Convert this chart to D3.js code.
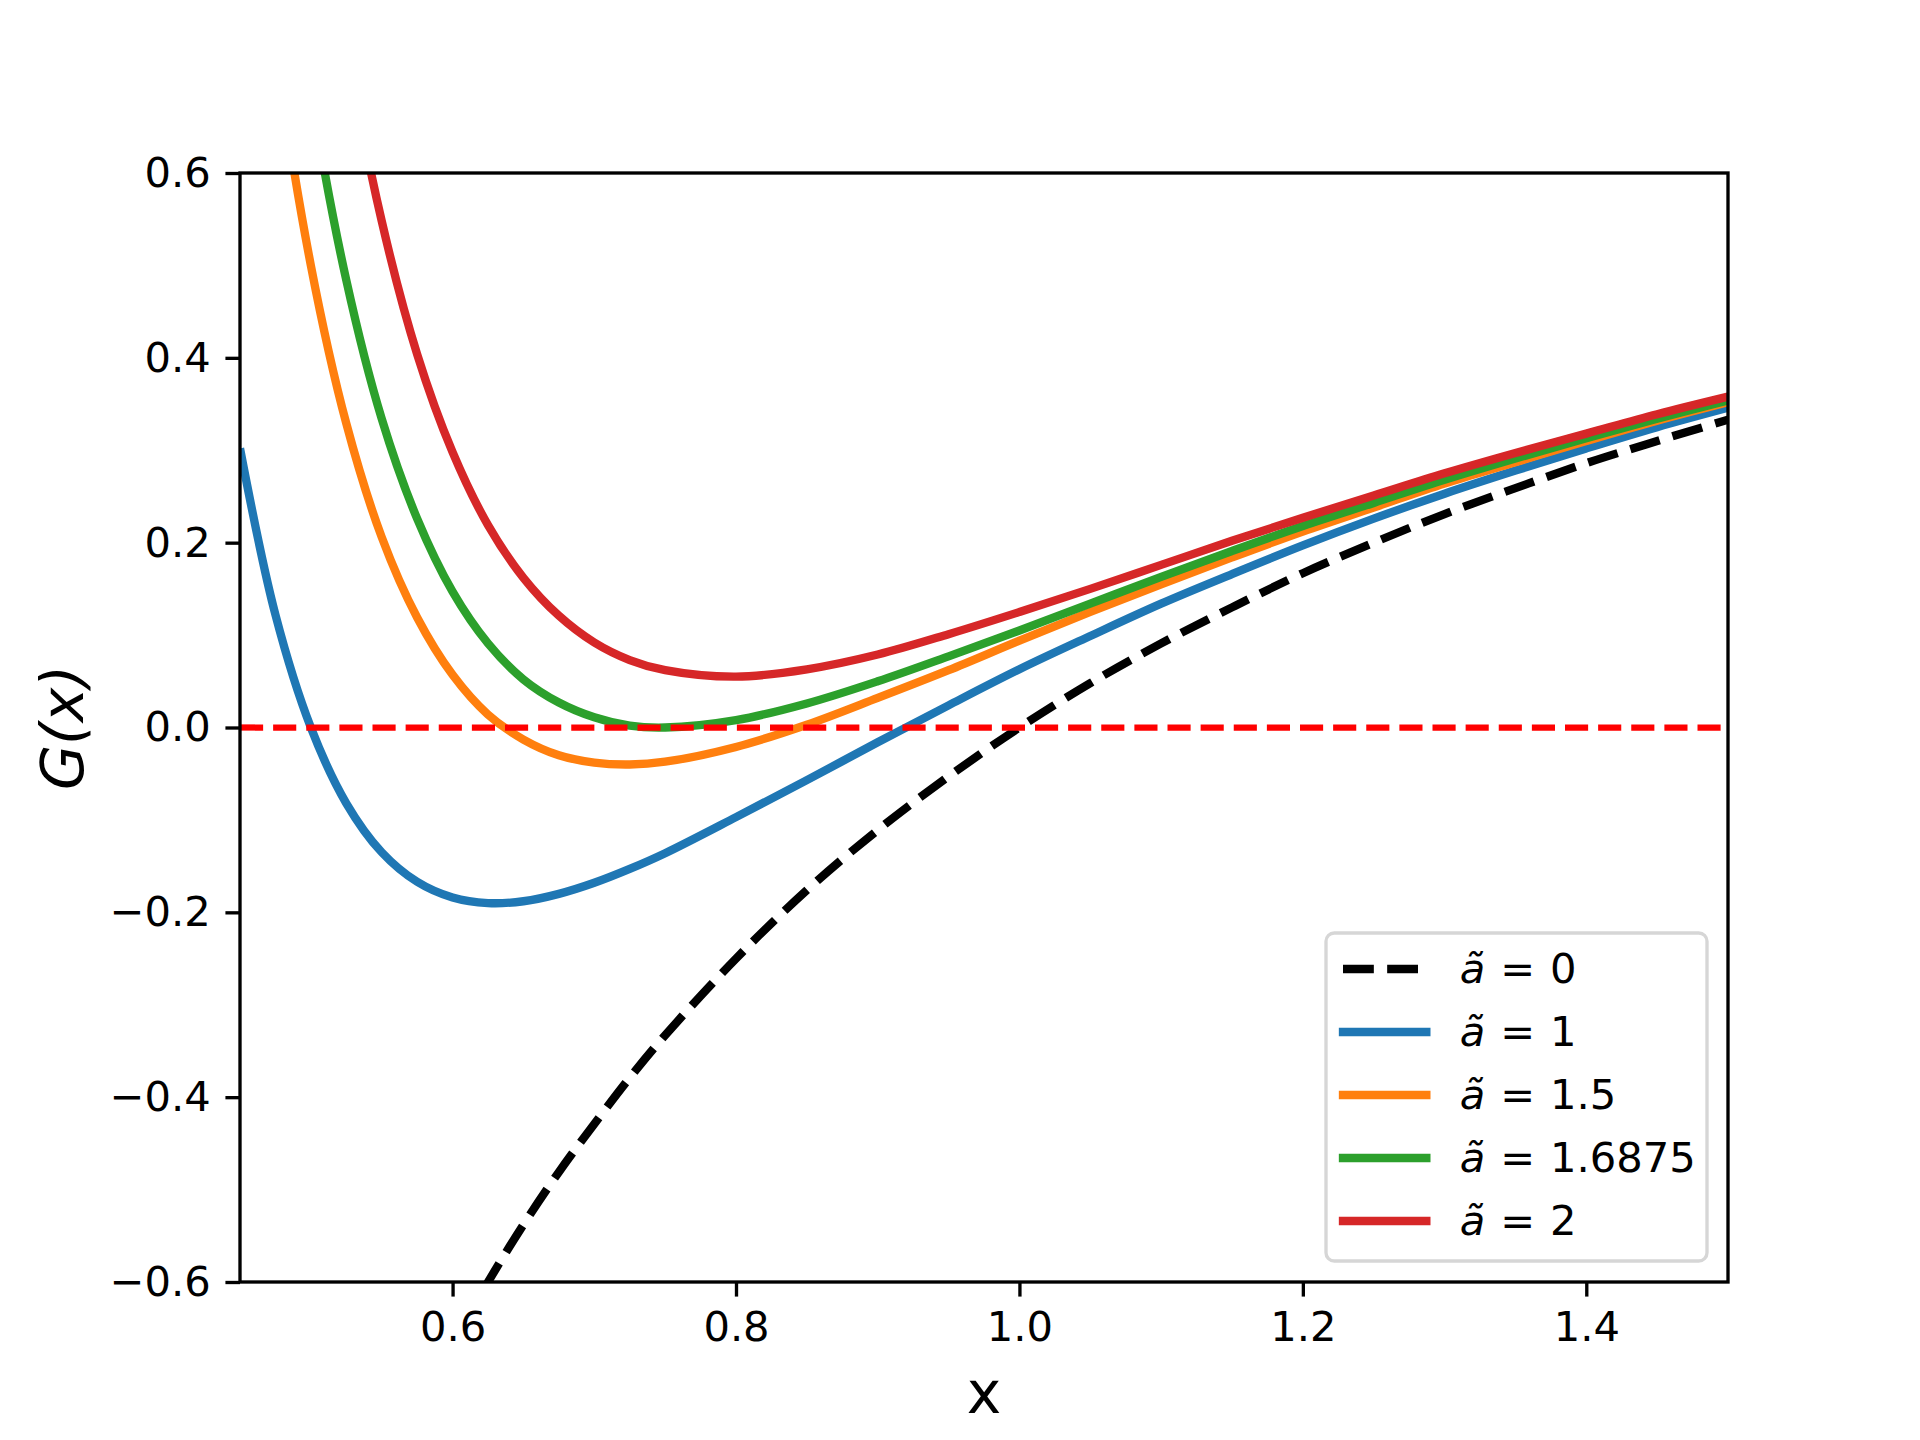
<!DOCTYPE html>
<html>
<head>
<meta charset="utf-8">
<script src="https://cdn.jsdelivr.net/npm/d3@7"></script>
<style>
  body { margin: 0; background: #fff; }
  text { font-family: "DejaVu Sans", sans-serif; }
</style>
</head>
<body>
<svg id="chart" width="1920" height="1440"></svg>
<script>
// x samples
const xs = [0.45, 0.475, 0.5, 0.525, 0.55, 0.575, 0.6, 0.625, 0.65, 0.675, 0.7, 0.725,
  0.75, 0.8, 0.85, 0.9, 0.95, 1.0, 1.05, 1.1, 1.15, 1.2, 1.25, 1.3, 1.35, 1.4, 1.45, 1.5];

const gA0 = [-1.222, -1.105, -1.0, -0.905, -0.818, -0.739, -0.667, -0.6, -0.538, -0.481, -0.429, -0.379,
  -0.333, -0.25, -0.176, -0.111, -0.053, 0.0, 0.048, 0.091, 0.130, 0.167, 0.2, 0.231, 0.259, 0.286, 0.310, 0.333];
const gA1 = [0.302, 0.122, 0.0, -0.082, -0.135, -0.167, -0.184, -0.190, -0.188, -0.180, -0.168, -0.153,
  -0.136, -0.097, -0.057, -0.016, 0.024, 0.063, 0.099, 0.134, 0.166, 0.197, 0.226, 0.253, 0.278, 0.302, 0.325, 0.346];
const gA15 = [1.064, 0.736, 0.5, 0.329, 0.206, 0.119, 0.057, 0.014, -0.013, -0.030, -0.038, -0.040,
  -0.037, -0.021, 0.003, 0.032, 0.062, 0.094, 0.125, 0.155, 0.184, 0.212, 0.238, 0.264, 0.287, 0.310, 0.332, 0.352];
const gA16875 = [1.350, 0.967, 0.688, 0.484, 0.334, 0.226, 0.147, 0.091, 0.052, 0.027, 0.011, 0.002,
  0.0, 0.008, 0.026, 0.050, 0.077, 0.105, 0.134, 0.163, 0.191, 0.218, 0.243, 0.268, 0.291, 0.313, 0.334, 0.354];
const gA2 = [1.826, 1.350, 1.0, 0.741, 0.548, 0.404, 0.298, 0.219, 0.162, 0.121, 0.092, 0.073,
  0.062, 0.055, 0.063, 0.079, 0.101, 0.125, 0.150, 0.176, 0.202, 0.227, 0.251, 0.275, 0.297, 0.318, 0.339, 0.358];

const aLabels = ["0", "1", "1.5", "1.6875", "2"];
const seriesValues = [gA0, gA1, gA15, gA16875, gA2];
const seriesColors = ["#000000", "#1f77b4", "#ff7f0e", "#2ca02c", "#d62728"];

const xTicks = [0.6, 0.8, 1.0, 1.2, 1.4];
const yTicks = [-0.6, -0.4, -0.2, 0.0, 0.2, 0.4, 0.6];

const plotLeft = 240, plotRight = 1728, plotTop = 173, plotBottom = 1282;
const pt = 300 / 72;
const fs = 10 * pt;

const svg = d3.select("#chart");

const x = d3.scaleLinear().domain([0.45, 1.5]).range([plotLeft, plotRight]);
const y = d3.scaleLinear().domain([-0.6, 0.6]).range([plotBottom, plotTop]);

svg.append("defs").append("clipPath")
  .attr("id", "plot-clip")
  .append("rect")
  .attr("x", plotLeft).attr("y", plotTop)
  .attr("width", plotRight - plotLeft).attr("height", plotBottom - plotTop);

const plot = svg.append("g").attr("clip-path", "url(#plot-clip)");

const line = d3.line()
  .x(d => x(d[0]))
  .y(d => y(d[1]))
  .curve(d3.curveCatmullRom);

seriesValues.forEach((vals, i) => {
  plot.append("path")
    .datum(xs.map((xv, j) => [xv, vals[j]]))
    .attr("fill", "none")
    .attr("stroke", seriesColors[i])
    .attr("stroke-width", 2 * pt)
    .attr("stroke-dasharray", i === 0 ? `${7.4 * pt},${3.2 * pt}` : null)
    .attr("d", line);
});

// zero line
plot.append("line")
  .attr("x1", x(0.45)).attr("x2", x(1.5))
  .attr("y1", y(0)).attr("y2", y(0))
  .attr("stroke", "#ff0000")
  .attr("stroke-width", 1.5 * pt)
  .attr("stroke-dasharray", `${5.55 * pt},${2.4 * pt}`);

// axes
const xAxis = svg.append("g")
  .attr("transform", `translate(0,${plotBottom})`)
  .call(d3.axisBottom(x).tickValues(xTicks).tickFormat(d3.format(".1f"))
    .tickSize(3.5 * pt).tickPadding(3.5 * pt));
const yAxis = svg.append("g")
  .attr("transform", `translate(${plotLeft},0)`)
  .call(d3.axisLeft(y).tickValues(yTicks).tickFormat(d3.format(".1f"))
    .tickSize(3.5 * pt).tickPadding(3.5 * pt));

[xAxis, yAxis].forEach(ax => {
  ax.select(".domain").remove();
  ax.selectAll(".tick line").attr("stroke", "#000").attr("stroke-width", 0.8 * pt);
  ax.selectAll(".tick text")
    .attr("fill", "#000")
    .style("font-family", "DejaVu Sans")
    .style("font-size", fs + "px");
});

svg.append("rect")
  .attr("x", plotLeft).attr("y", plotTop)
  .attr("width", plotRight - plotLeft).attr("height", plotBottom - plotTop)
  .attr("fill", "none")
  .attr("stroke", "#000")
  .attr("stroke-width", 0.8 * pt);

// labels
svg.append("text")
  .attr("x", (plotLeft + plotRight) / 2)
  .attr("y", 1413)
  .attr("text-anchor", "middle")
  .style("font-size", 14 * pt + "px")
  .text("x");

svg.append("text")
  .attr("transform", `translate(83,${(plotTop + plotBottom) / 2}) rotate(-90)`)
  .attr("text-anchor", "middle")
  .style("font-size", 14 * pt + "px")
  .style("font-style", "italic")
  .text("G(x)");

// legend
const legend = svg.append("g");
legend.append("rect")
  .attr("x", 1326).attr("y", 933)
  .attr("width", 381).attr("height", 328)
  .attr("rx", 0.2 * fs)
  .attr("fill", "#fff").attr("fill-opacity", 0.8)
  .attr("stroke", "#cccccc").attr("stroke-opacity", 0.8)
  .attr("stroke-width", 0.8 * pt);

aLabels.forEach((lab, i) => {
  const cy = 969 + i * 63;
  legend.append("line")
    .attr("x1", 1343).attr("x2", 1343 + 2 * fs)
    .attr("y1", cy).attr("y2", cy)
    .attr("stroke", seriesColors[i])
    .attr("stroke-width", 2 * pt)
    .attr("stroke-linecap", i === 0 ? "butt" : "square")
    .attr("stroke-dasharray", i === 0 ? `${7.4 * pt},${3.2 * pt}` : null);
  const t = legend.append("text")
    .attr("x", 1343 + 2.8 * fs)
    .attr("y", cy + 14)
    .style("font-size", fs + "px");
  t.append("tspan").style("font-style", "italic").text("ã");
  t.append("tspan").attr("dx", 15).text("=");
  t.append("tspan").attr("dx", 15).text(lab);
});
</script>
</body>
</html>
